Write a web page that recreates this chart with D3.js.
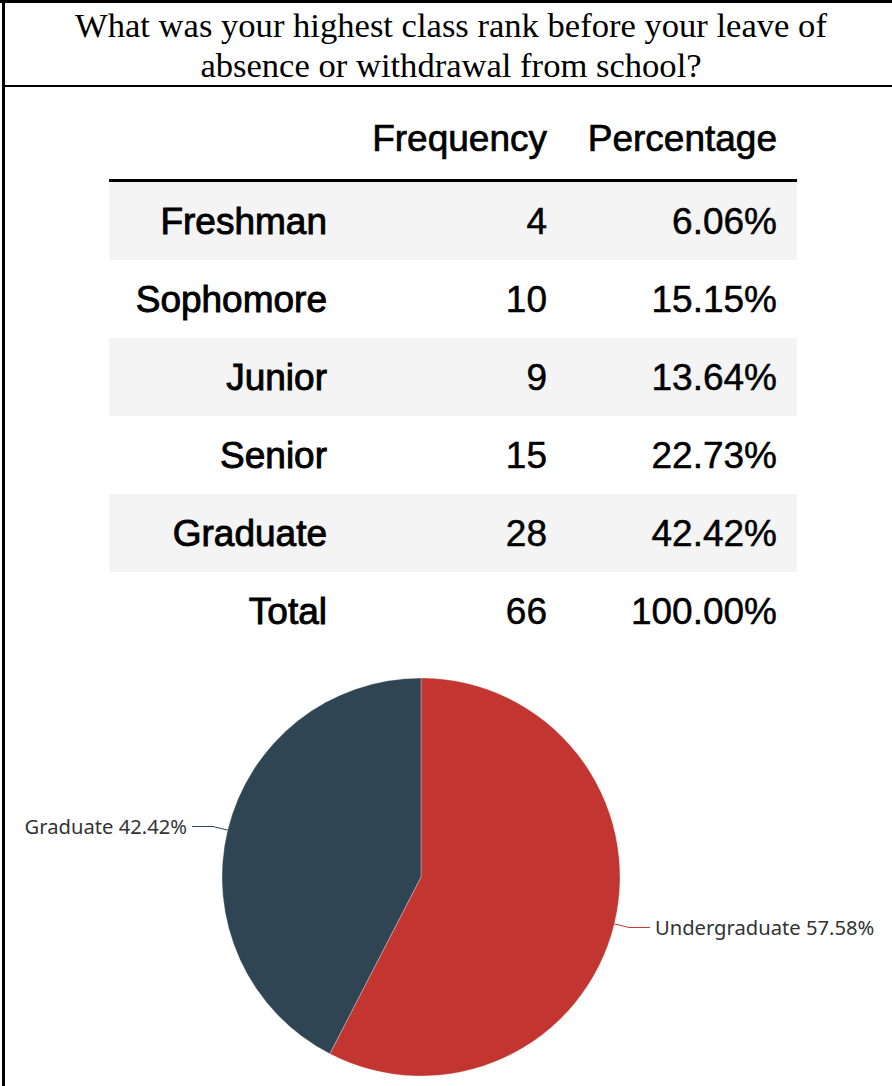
<!DOCTYPE html>
<html>
<head>
<meta charset="utf-8">
<script src="https://cdn.jsdelivr.net/npm/d3@7"></script>
<style>
  html, body { margin: 0; padding: 0; background: #fff; }
  svg { display: block; }
</style>
</head>
<body>
<svg id="chart" width="892" height="1086"></svg>
<script>
// ---- data ----
const titleLines = ["What was your highest class rank before your leave of", "absence or withdrawal from school?"];
const columnHeaders = ["Frequency", "Percentage"];
const categories = ["Freshman", "Sophomore", "Junior", "Senior", "Graduate"];
const frequencies = [4, 10, 9, 15, 28];
const percentages = ["6.06%", "15.15%", "13.64%", "22.73%", "42.42%"];
const totalLabel = "Total";
const totalFrequency = 66;
const totalPercentage = "100.00%";
const pieCategories = ["Undergraduate", "Graduate"];
const pieValues = [57.58, 42.42];
const pieColors = ["#c23531", "#2f4554"];

// ---- drawing ----
const W = 892, H = 1086;
const svg = d3.select("#chart");

// frame
svg.append("rect").attr("x", 0).attr("y", 0).attr("width", W).attr("height", H).attr("fill", "#fff");
svg.append("line").attr("x1", 0).attr("x2", W).attr("y1", 1.5).attr("y2", 1.5).attr("stroke", "#000").attr("stroke-width", 3);
svg.append("line").attr("x1", 3.5).attr("x2", 3.5).attr("y1", 0).attr("y2", H).attr("stroke", "#000").attr("stroke-width", 3);
svg.append("line").attr("x1", 2).attr("x2", W).attr("y1", 86).attr("y2", 86).attr("stroke", "#000").attr("stroke-width", 2);

// title
svg.append("g").selectAll("text").data(titleLines).join("text")
  .attr("x", 451).attr("y", (d, i) => 37 + i * 40)
  .attr("text-anchor", "middle")
  .attr("font-family", "'Liberation Serif', 'Times New Roman', serif")
  .attr("font-size", 34.6)
  .attr("fill", "#000")
  .text(d => d);

// table
const rows = categories.map((c, i) => ({ label: c, freq: frequencies[i], pct: percentages[i] }));
rows.push({ label: totalLabel, freq: totalFrequency, pct: totalPercentage, total: true });

const tableLeft = 109, tableRight = 797;
const y = d3.scaleBand().domain(d3.range(rows.length)).range([182, 182 + 78 * rows.length]).padding(0);

const tfont = "'Liberation Sans', Arial, sans-serif";
const tsize = 37;
const colX = [327, 547, 777];

const table = svg.append("g");
table.selectAll("rect.row").data(rows).join("rect")
  .attr("class", "row")
  .attr("x", tableLeft).attr("width", tableRight - tableLeft)
  .attr("y", (d, i) => y(i)).attr("height", y.bandwidth())
  .attr("fill", (d, i) => i % 2 === 0 ? "#f4f4f4" : "#ffffff");

table.append("line").attr("x1", tableLeft).attr("x2", tableRight)
  .attr("y1", 180.5).attr("y2", 180.5).attr("stroke", "#000").attr("stroke-width", 3);

table.selectAll("text.hdr").data(columnHeaders).join("text")
  .attr("class", "hdr")
  .attr("x", (d, i) => colX[i + 1]).attr("y", 151)
  .attr("text-anchor", "end")
  .attr("font-family", tfont).attr("font-size", tsize).attr("fill", "#000")
  .attr("stroke", "#000").attr("stroke-width", 0.7)
  .text(d => d);

const rowG = table.selectAll("g.r").data(rows).join("g").attr("class", "r")
  .attr("transform", (d, i) => `translate(0,${y(i) + y.bandwidth() / 2 + 13})`);
rowG.selectAll("text").data(d => [d.label, String(d.freq), d.pct]).join("text")
  .attr("x", (d, i) => colX[i]).attr("y", 0)
  .attr("text-anchor", "end")
  .attr("font-family", tfont).attr("font-size", tsize).attr("fill", "#000")
  .attr("stroke", "#000").attr("stroke-width", (d, i) => i === 0 ? 0.9 : 0.5)
  .text(d => d);

// pie
const cx = 421, cy = 877, R = 199;
const pie = d3.pie().sort(null).value(d => d.value);
const pieData = pie(pieCategories.map((c, i) => ({ name: c, value: pieValues[i], color: pieColors[i] })));
const arc = d3.arc().innerRadius(0).outerRadius(R);
const pg = svg.append("g").attr("transform", `translate(${cx},${cy})`);
pg.selectAll("path").data(pieData).join("path")
  .attr("d", arc)
  .attr("fill", d => d.data.color)
  .attr("stroke", "#fff").attr("stroke-width", 0.3);

const lblFont = "'Noto Sans', 'Open Sans', sans-serif";
pieData.forEach(d => {
  const a = (d.startAngle + d.endAngle) / 2;
  const sx = Math.sin(a), sy = -Math.cos(a);
  const p0 = [R * sx, R * sy];
  const p1 = [(R + 15) * sx, (R + 15) * sy];
  const dir = sx >= 0 ? 1 : -1;
  const p2 = [p1[0] + dir * 21, p1[1]];
  pg.append("polyline")
    .attr("points", [p0, p1, p2].map(p => p.join(",")).join(" "))
    .attr("fill", "none").attr("stroke", d.data.color).attr("stroke-width", 1);
  pg.append("text")
    .attr("x", p2[0] + dir * 5).attr("y", p2[1])
    .attr("dy", "0.35em")
    .attr("text-anchor", dir > 0 ? "start" : "end")
    .attr("font-family", lblFont).attr("font-size", 20.2).attr("fill", "#333")
    .text(`${d.data.name} ${d3.format(".2f")(d.data.value)}%`);
});
</script>
</body>
</html>
